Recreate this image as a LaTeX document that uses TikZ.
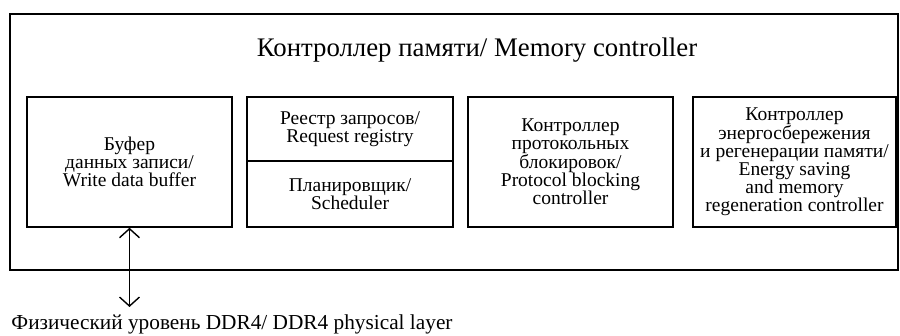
\documentclass[tikz,border=0pt]{standalone}
\usepackage{fontspec}
\setmainfont{Liberation Serif}
\usepackage{tikz}
\usetikzlibrary{arrows.meta,positioning}
\tikzset{blk/.style={draw, line width=1.6pt, inner sep=0pt, align=center,
  font=\fontsize{19.5}{18}\selectfont}}
\tikzset{outer/.style={draw, line width=2pt, inner sep=0pt}}
\tikzset{dd/.style={draw, line width=1.4pt,
  {Straight Barb[length=9pt,width=20pt,line width=1.4pt]}-{Straight Barb[length=9pt,width=20pt,line width=1.4pt]}}}

\begin{document}
\begin{tikzpicture}[x=1pt,y=-1pt]
        \useasboundingbox (0,0) rectangle (900,336);
        %% memory controller
        \node (mc) at (454,142) [outer, minimum width=888pt, minimum height=256pt] {};
        \node (title) at (477,50) [font=\fontsize{26.8}{28}\selectfont] {Контроллер памяти/ Memory controller};
        %% blocks
        \node (buf) at (129.5,162) [blk, minimum width=205pt, minimum height=130pt]
            {Буфер\\данных записи/\\Write data buffer};
        \node (reg) at (350,129) [blk, minimum width=206pt, minimum height=64pt]
            {Реестр запросов/\\Request registry};
        \node (sch) at (350,194) [blk, minimum width=206pt, minimum height=66pt]
            {Планировщик/\\Scheduler};
        \node (pbc) at (570.5,162) [blk, minimum width=205pt, minimum height=130pt]
            {Контроллер\\протокольных\\блокировок/\\Protocol blocking\\controller};
        \node (esc) at (794.5,162) [blk, minimum width=203pt, minimum height=130pt]
            {Контроллер\\энергосбережения\\и регенерации памяти/\\Energy saving\\and memory\\regeneration controller};
        %% physical layer
        \node (phy) at (232,324) [font=\fontsize{21.3}{22}\selectfont] {Физический уровень DDR4/ DDR4 physical layer};
        \coordinate (phyend) at (buf.south |- 0,307);
        \draw [dd] (buf.south) -- (phyend);
    \end{tikzpicture}
\end{document}
